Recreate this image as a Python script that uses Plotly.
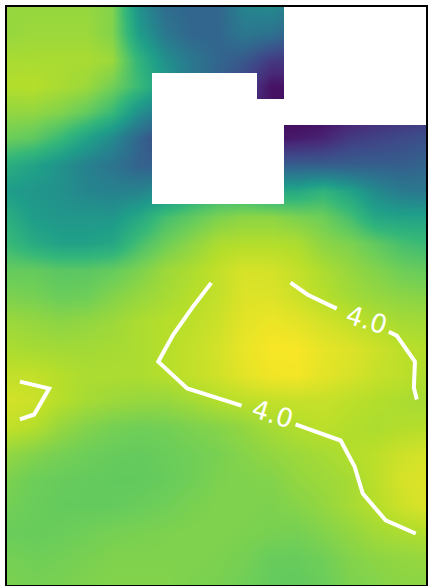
import plotly.graph_objects as go

columns = list(range(17))
rows = list(range(23))

row00 = [3.88,3.88,3.88,3.88,3.82,3.20,2.90,2.85,2.85,3.10,3.15,3.00,3.00,3.00,3.00,3.00,3.00]
row01 = [3.88,3.90,3.90,3.90,3.82,3.30,3.00,2.85,2.85,3.00,2.95,2.80,2.80,2.80,2.80,2.80,2.80]
row02 = [3.94,3.94,3.94,3.94,3.90,3.50,3.20,3.00,2.85,2.75,2.55,2.50,2.50,2.50,2.50,2.50,2.50]
row03 = [3.97,3.98,3.94,3.90,3.77,3.55,3.30,3.00,2.80,2.60,2.30,2.30,2.30,2.40,2.45,2.50,2.50]
row04 = [3.87,3.87,3.82,3.72,3.55,3.20,3.00,2.80,2.60,2.40,2.30,2.20,2.25,2.30,2.40,2.45,2.50]
row05 = [3.75,3.70,3.55,3.35,3.15,2.85,2.60,2.60,2.50,2.40,2.30,2.35,2.40,2.55,2.60,2.65,2.70]
row06 = [3.45,3.35,3.22,3.08,2.97,2.82,2.80,2.90,2.90,2.85,2.80,2.80,2.80,2.80,2.80,2.80,2.85]
row07 = [3.30,3.25,3.20,3.12,3.08,3.10,3.20,3.40,3.50,3.50,3.40,3.40,3.50,3.35,3.15,3.02,3.00]
row08 = [3.45,3.30,3.25,3.25,3.25,3.40,3.60,3.70,3.80,3.85,3.85,3.80,3.75,3.60,3.38,3.35,3.35]
row09 = [3.55,3.42,3.34,3.34,3.38,3.60,3.75,3.85,3.95,3.97,3.97,3.95,3.85,3.80,3.70,3.60,3.55]
row10 = [3.72,3.72,3.68,3.68,3.72,3.80,3.90,3.95,4.02,4.08,4.07,4.02,3.95,3.88,3.82,3.75,3.72]
row11 = [3.80,3.78,3.74,3.75,3.82,3.88,3.93,3.98,4.02,4.10,4.10,4.05,3.98,3.92,3.88,3.85,3.83]
row12 = [3.90,3.88,3.85,3.87,3.90,3.95,3.98,4.00,4.05,4.12,4.15,4.12,4.07,4.02,3.97,3.93,3.92]
row13 = [3.95,3.93,3.92,3.92,3.93,3.95,3.98,4.02,4.07,4.14,4.18,4.18,4.13,4.10,4.05,4.00,3.97]
row14 = [4.02,4.02,3.98,3.95,3.95,3.95,3.98,4.02,4.06,4.12,4.16,4.17,4.12,4.08,4.03,4.00,3.95]
row15 = [4.07,4.05,3.98,3.93,3.90,3.88,3.88,3.92,3.97,4.00,4.02,4.03,4.03,4.00,3.97,3.95,3.93]
row16 = [4.02,3.98,3.88,3.82,3.78,3.76,3.77,3.80,3.83,3.87,3.93,3.97,4.00,3.97,3.95,3.97,3.98]
row17 = [3.87,3.82,3.78,3.75,3.73,3.72,3.74,3.76,3.79,3.83,3.87,3.90,3.93,3.97,4.00,4.05,4.08]
row18 = [3.80,3.75,3.73,3.72,3.71,3.71,3.73,3.76,3.80,3.81,3.82,3.87,3.90,3.93,4.00,4.08,4.10]
row19 = [3.77,3.74,3.72,3.72,3.72,3.74,3.76,3.79,3.81,3.81,3.80,3.83,3.87,3.93,3.98,4.05,4.10]
row20 = [3.74,3.73,3.74,3.76,3.78,3.79,3.80,3.81,3.81,3.80,3.79,3.78,3.82,3.87,3.92,3.95,3.97]
row21 = [3.78,3.76,3.77,3.79,3.81,3.81,3.81,3.81,3.80,3.78,3.73,3.73,3.76,3.82,3.85,3.87,3.88]
row22 = [3.80,3.78,3.79,3.81,3.82,3.82,3.82,3.80,3.79,3.76,3.72,3.71,3.74,3.80,3.82,3.85,3.85]

z_values = [row00,row01,row02,row03,row04,row05,row06,row07,row08,row09,row10,row11,
            row12,row13,row14,row15,row16,row17,row18,row19,row20,row21,row22]

# missing cells: (row, first column, last column)
missing_spans = [(0,11,16),(1,11,16),(2,11,16),(3,6,9),(3,11,16),(4,6,16),(5,6,10),(6,6,10),(7,6,10)]

line_a1_x = [7.75,7.45,7.03,6.31,5.74,6.84,7.60,8.90]
line_a1_y = [10.50,10.87,11.44,12.47,13.50,14.52,14.75,15.17]
line_a2_x = [10.95,11.63,12.66,13.19,13.50,14.37,15.51]
line_a2_y = [15.89,16.12,16.50,17.49,18.52,19.54,20.04]
line_b1_x = [10.76,11.41,12.51]
line_b1_y = [10.49,10.95,11.48]
line_b2_x = [14.49,14.79,15.48,15.44,15.55]
line_b2_y = [12.36,12.51,13.50,14.49,14.94]
line_c_x = [0.49,1.60,1.03,0.49]
line_c_y = [14.26,14.52,15.51,15.70]

label_text = "4.0"
label_x = [10.08, 13.65]
label_y = [15.48, 11.90]
label_angle = [17, 17]

mask = [[None]*len(columns) for _ in rows]
for r, c0, c1 in missing_spans:
    for c in range(c0, c1+1):
        mask[r][c] = 1

fig = go.Figure()
fig.add_trace(go.Heatmap(x=columns, y=rows, z=z_values, colorscale="Viridis",
                         zmin=2.2, zmax=4.2, zsmooth="best", showscale=False, hoverinfo="skip"))
fig.add_trace(go.Heatmap(x=columns, y=rows, z=mask, colorscale=[[0,"white"],[1,"white"]],
                         showscale=False, hoverinfo="skip", xgap=0, ygap=0))
for lx, ly in [(line_a1_x,line_a1_y),(line_a2_x,line_a2_y),(line_b1_x,line_b1_y),
               (line_b2_x,line_b2_y),(line_c_x,line_c_y)]:
    fig.add_trace(go.Scatter(x=lx, y=ly, mode="lines", showlegend=False, hoverinfo="skip",
                             line=dict(color="white", width=4)))
for x, y, a in zip(label_x, label_y, label_angle):
    fig.add_annotation(x=x, y=y, text=label_text, showarrow=False, textangle=a,
                       font=dict(family="DejaVu Sans", size=26, color="white"))

axis = dict(showticklabels=False, ticks="", showgrid=False, zeroline=False,
            showline=True, mirror=True, linecolor="black", linewidth=2)
fig.update_xaxes(range=[0,15.9], **axis)
fig.update_yaxes(range=[22,0], **axis)
fig.update_layout(width=428, height=586, margin=dict(l=6.5,r=0,t=7,b=1),
                  paper_bgcolor="white", plot_bgcolor="white", showlegend=False)
fig.write_html("out.html", config=dict(displayModeBar=False),
               post_script="document.documentElement.style.margin='0';document.body.style.margin='0';document.body.style.overflow='hidden';")
